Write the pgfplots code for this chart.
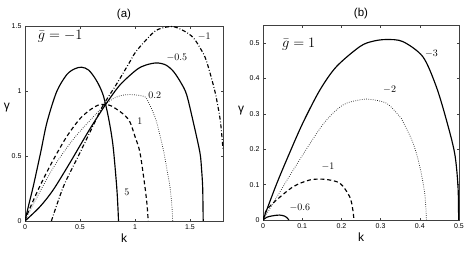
\documentclass[border=0pt]{standalone}
\usepackage{pgfplots}
\pgfplotsset{compat=1.18}
\usepackage{fontspec}
\newfontfamily\hel{Liberation Sans}
\begin{document}
\begin{tikzpicture}
\useasboundingbox (0pt,0pt) rectangle (471pt,252pt);
\pgfplotsset{myax/.style={
  scale only axis, height=195pt,
  axis line style={line width=0.5pt, black!75},
  tick align=inside, xtick pos=both, ytick pos=both,
  major tick length=2.5pt,
  tick style={black!75, line width=0.4pt},
  /pgf/number format/assume math mode=true,
  tick label style={font=\hel\fontsize{7}{8}\selectfont},
  xlabel={k}, xlabel style={font=\hel\fontsize{12}{13}\selectfont, yshift=3pt},
  ylabel={γ},
  title style={font=\hel\fontsize{11.5}{13}\selectfont, yshift=-3pt},
  clip=true,
}}
\tikzset{
  solidc/.style={black, line width=1.15pt, smooth, tension=0.5},
  dashc/.style={black, line width=1.15pt, dash pattern=on 4pt off 2.8pt, smooth, tension=0.5},
  dotc/.style={black!85, line width=0.75pt, dash pattern=on 0.7pt off 1.5pt, smooth, tension=0.5},
  dashdotc/.style={black, line width=1.15pt, dash pattern=on 4pt off 2pt on 0.8pt off 2pt, smooth, tension=0.5},
  lab/.style={font=\fontsize{10}{11}\selectfont, inner sep=1pt},
}
% ---------------- (a)
\begin{axis}[myax, at={(25pt,31pt)}, anchor=south west, width=198pt,
  xmin=0, xmax=1.8, ymin=0, ymax=1.5,
  xtick={0,0.5,1,1.5}, ytick={0,0.5,1,1.5},
  title={(a)},
  ylabel style={font=\hel\fontsize{12}{13}\selectfont, rotate=-90, at={(rel axis cs:0,0.58)}, anchor=center, xshift=-18pt},
]
\addplot[solidc] coordinates {(0,0) (0.03,0.11) (0.076,0.27) (0.143,0.53) (0.2,0.76) (0.288,0.995) (0.379,1.125) (0.45,1.17) (0.515,1.183) (0.58,1.16) (0.65,1.08) (0.71,0.97) (0.76,0.79) (0.80,0.58) (0.833,0.27) (0.845,0.1) (0.85,0)};
\addplot[dashc] coordinates {(0,0) (0.03,0.07) (0.136,0.27) (0.257,0.47) (0.38,0.65) (0.5,0.787) (0.6,0.86) (0.68,0.895) (0.77,0.89) (0.85,0.85) (0.91,0.81) (0.955,0.76) (1.0,0.65) (1.045,0.527) (1.09,0.266) (1.11,0.12) (1.12,0)};
\addplot[dotc] coordinates {(0,0) (0.076,0.13) (0.257,0.41) (0.44,0.63) (0.62,0.8) (0.736,0.9) (0.8,0.94) (0.86,0.962) (0.93,0.972) (1.0,0.97) (1.09,0.955) (1.13,0.9) (1.167,0.83) (1.2,0.75) (1.257,0.55) (1.3,0.35) (1.318,0.266) (1.335,0.12) (1.343,0)};
\addplot[solidc] coordinates {(0,0) (0.136,0.11) (0.257,0.24) (0.41,0.45) (0.5,0.58) (0.606,0.73) (0.736,0.9) (0.864,1.047) (1.015,1.164) (1.1,1.2) (1.197,1.216) (1.28,1.2) (1.35,1.15) (1.42,1.06) (1.47,0.97) (1.53,0.76) (1.59,0.527) (1.605,0.4) (1.615,0.266) (1.618,0.12) (1.62,0)};
\addplot[dashdotc] coordinates {(0.24,0) (0.35,0.266) (0.485,0.5) (0.65,0.787) (0.71,0.89) (0.83,1.05) (0.88,1.12) (0.95,1.22) (1.015,1.31) (1.167,1.45) (1.25,1.485) (1.35,1.495) (1.45,1.46) (1.53,1.41) (1.6,1.32) (1.65,1.23) (1.727,0.995) (1.773,0.787) (1.79,0.65) (1.8,0.55)};
\node[font=\fontsize{14}{15}\selectfont, inner sep=1pt] at (axis cs:0.32,1.42) {$\bar{g}=-1$};
\node[lab] at (axis cs:1.63,1.42) {$-1$};
\node[lab] at (axis cs:1.38,1.255) {$-0.5$};
\node[lab] at (axis cs:1.18,0.97) {$0.2$};
\node[lab] at (axis cs:1.045,0.766) {$1$};
\node[lab] at (axis cs:0.925,0.22) {$5$};
\end{axis}
% ---------------- (b)
\begin{axis}[myax, at={(263pt,32pt)}, anchor=south west, width=196pt,
  xmin=0, xmax=0.5, ymin=0, ymax=0.551,
  xtick={0,0.1,0.2,0.3,0.4,0.5}, ytick={0,0.1,0.2,0.3,0.4,0.5},
  title={(b)},
  ylabel style={font=\hel\fontsize{12}{13}\selectfont, rotate=-90, at={(rel axis cs:0,0.56)}, anchor=center, xshift=-22pt},
]
\addplot[solidc] coordinates {(0,0) (0.034,0.1) (0.068,0.19) (0.102,0.275) (0.145,0.367) (0.187,0.433) (0.247,0.49) (0.28,0.505) (0.315,0.51) (0.357,0.504) (0.408,0.461) (0.442,0.377) (0.468,0.282) (0.489,0.188) (0.4975,0.094) (0.499,0)};
\addplot[dotc] coordinates {(0,0) (0.077,0.141) (0.153,0.27) (0.204,0.325) (0.25,0.34) (0.272,0.341) (0.315,0.33) (0.349,0.292) (0.357,0.278) (0.383,0.217) (0.4,0.151) (0.4125,0.075) (0.417,0)};
\addplot[dashc] coordinates {(0,0) (0.009,0.028) (0.034,0.056) (0.077,0.094) (0.119,0.113) (0.157,0.115) (0.196,0.104) (0.221,0.066) (0.229,0.03) (0.232,0)};
\addplot[solidc] coordinates {(0,0) (0.01,0.008) (0.0255,0.012) (0.0426,0.014) (0.055,0.011) (0.06,0.0076) (0.064,0.003) (0.066,0)};
\node[font=\fontsize{14}{15}\selectfont, inner sep=1pt] at (axis cs:0.091,0.497) {$\bar{g}=1$};
\node[lab] at (axis cs:0.43,0.47) {$-3$};
\node[lab] at (axis cs:0.323,0.367) {$-2$};
\node[lab] at (axis cs:0.166,0.15) {$-1$};
\node[lab] at (axis cs:0.094,0.036) {$-0.6$};
\end{axis}
\end{tikzpicture}
\end{document}
